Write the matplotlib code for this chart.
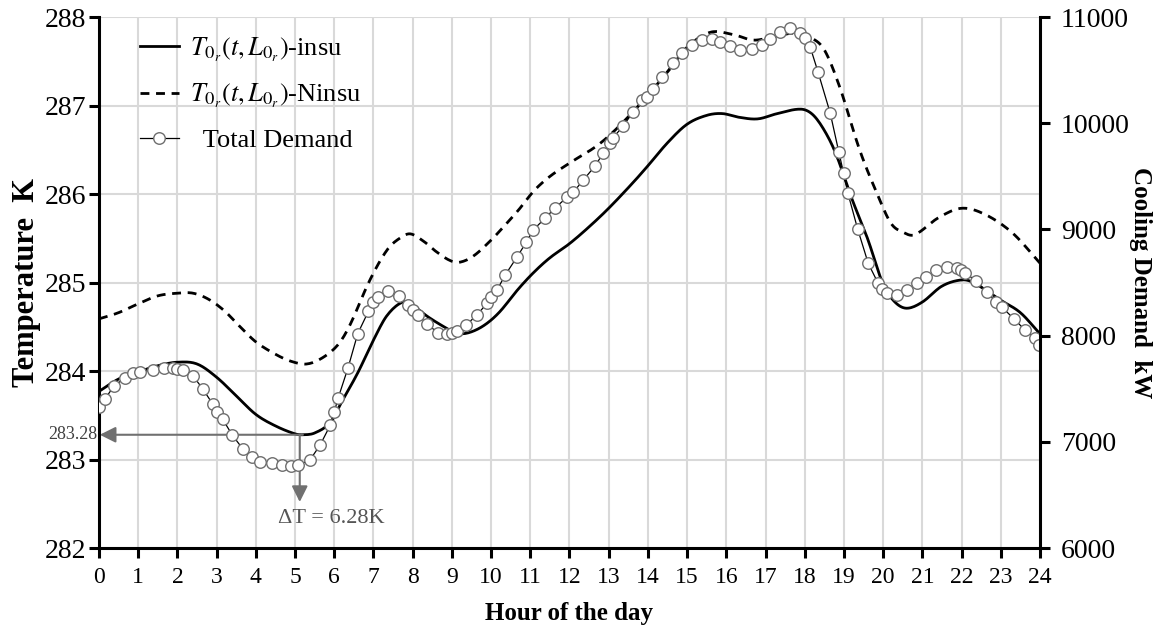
import matplotlib
matplotlib.use("Agg")
import matplotlib.pyplot as plt
import numpy as np

plt.rcParams['font.family'] = ['Liberation Serif', 'DejaVu Serif']
plt.rcParams['mathtext.fontset'] = 'stix'

# --- data -------------------------------------------------------------
insu_hours = [0, 0.5, 1, 1.5, 2, 2.5, 3, 3.5, 4, 4.5, 5, 5.2, 5.5, 5.9, 6.2, 6.6,
              7.0, 7.35, 7.75, 8.0, 8.4, 8.8, 9.1, 9.4, 9.8, 10.2, 10.7, 11.1, 11.5,
              12, 12.5, 13, 13.6, 14, 14.5, 15, 15.5, 15.9, 16.3, 16.8, 17.3, 17.9,
              18.2, 18.5, 18.8, 19.2, 19.6, 20.0, 20.3, 20.6, 21.0, 21.5, 22.0, 22.3,
              23.0, 23.5, 24]
insu_temp = [283.77, 283.91, 283.99, 284.06, 284.10, 284.08, 283.93, 283.72, 283.51,
             283.38, 283.29, 283.28, 283.30, 283.42, 283.66, 283.98, 284.35, 284.63,
             284.78, 284.74, 284.61, 284.50, 284.43, 284.43, 284.51, 284.66, 284.93,
             285.12, 285.28, 285.44, 285.63, 285.84, 286.12, 286.32, 286.58, 286.79,
             286.89, 286.91, 286.87, 286.85, 286.91, 286.96, 286.90, 286.72, 286.45,
             285.95, 285.50, 284.98, 284.78, 284.71, 284.78, 284.96, 285.03, 285.00,
             284.80, 284.66, 284.42]

ninsu_hours = [0, 0.5, 1, 1.5, 2, 2.4, 2.8, 3.2, 3.6, 4.0, 4.5, 4.9, 5.3, 5.7, 6.1,
               6.4, 6.9, 7.35, 7.7, 7.95, 8.3, 8.6, 8.95, 9.2, 9.55, 10.0, 10.4, 10.7,
               11.1, 11.5, 12, 12.8, 13.6, 14.5, 15.0, 15.6, 16.2, 16.7, 17.3, 17.8,
               18.15, 18.5, 18.9, 19.4, 19.85, 20.2, 20.5, 20.8, 21.4, 22.0, 22.6,
               23.3, 24.0]
ninsu_temp = [284.59, 284.66, 284.76, 284.85, 284.88, 284.88, 284.81, 284.68, 284.50,
              284.33, 284.19, 284.11, 284.08, 284.15, 284.30, 284.52, 285.02, 285.37,
              285.51, 285.55, 285.46, 285.35, 285.25, 285.23, 285.30, 285.48, 285.67,
              285.82, 286.04, 286.20, 286.35, 286.58, 286.92, 287.38, 287.66, 287.83,
              287.80, 287.74, 287.79, 287.82, 287.77, 287.63, 287.20, 286.50, 286.00,
              285.67, 285.57, 285.54, 285.73, 285.84, 285.77, 285.56, 285.22]

demand_hours = [0.0, 0.15, 0.38, 0.66, 0.87, 1.05, 1.38, 1.66, 1.9, 2.0, 2.15, 2.4,
                2.65, 2.9, 3.0, 3.15, 3.4, 3.67, 3.9, 4.1, 4.4, 4.67, 4.9, 5.08, 5.38,
                5.64, 5.9, 6.0, 6.1, 6.35, 6.6, 6.87, 6.99, 7.12, 7.37, 7.65, 7.88, 8.0,
                8.14, 8.37, 8.65, 8.87, 9.0, 9.13, 9.36, 9.64, 9.9, 10.0, 10.15, 10.36,
                10.66, 10.9, 11.07, 11.38, 11.63, 11.94, 12.1, 12.35, 12.65, 12.86,
                13.04, 13.1, 13.37, 13.62, 13.85, 13.97, 14.14, 14.37, 14.65, 14.87,
                15.13, 15.38, 15.64, 15.84, 16.1, 16.35, 16.66, 16.9, 17.12, 17.37,
                17.63, 17.88, 18.0, 18.14, 18.34, 18.65, 18.87, 18.99, 19.1, 19.35,
                19.62, 19.87, 19.97, 20.1, 20.36, 20.6, 20.86, 21.1, 21.35, 21.63,
                21.88, 21.98, 22.1, 22.37, 22.65, 22.88, 23.03, 23.34, 23.62, 23.88,
                23.98]
demand_kw = [7330, 7403, 7525, 7600, 7648, 7657, 7676, 7695, 7695, 7690, 7676, 7620,
             7497, 7356, 7281, 7215, 7064, 6932, 6857, 6810, 6800, 6782, 6772, 6782,
             6829, 6970, 7158, 7281, 7413, 7695, 8020, 8228, 8316, 8363, 8420, 8373,
             8288, 8241, 8194, 8109, 8025, 8015, 8025, 8043, 8100, 8194, 8307, 8363,
             8429, 8571, 8740, 8881, 8994, 9107, 9202, 9305, 9352, 9465, 9597, 9719,
             9814, 9860, 9974, 10106, 10219, 10247, 10322, 10435, 10567, 10661, 10736,
             10783, 10793, 10765, 10727, 10689, 10698, 10736, 10793, 10859, 10896,
             10850, 10802, 10718, 10482, 10096, 9729, 9531, 9343, 9004, 8680, 8495,
             8439, 8401, 8380, 8429, 8495, 8552, 8618, 8646, 8637, 8618, 8590, 8514,
             8411, 8316, 8269, 8156, 8053, 7977, 7911]

x_ticks = list(range(0, 25))
temp_ticks = [282, 283, 284, 285, 286, 287, 288]
demand_ticks = [6000, 7000, 8000, 9000, 10000, 11000]

t_min = 283.28
t_min_hour = 5.2
delta_label = "ΔT = 6.28K"


def smooth(xs, ys, n=600):
    xs = np.asarray(xs, float)
    ys = np.asarray(ys, float)
    xx = np.linspace(xs[0], xs[-1], n)
    m = np.zeros_like(ys)
    m[1:-1] = (ys[2:] - ys[:-2]) / (xs[2:] - xs[:-2])
    m[0] = (ys[1] - ys[0]) / (xs[1] - xs[0])
    m[-1] = (ys[-1] - ys[-2]) / (xs[-1] - xs[-2])
    idx = np.clip(np.searchsorted(xs, xx) - 1, 0, len(xs) - 2)
    h = xs[idx + 1] - xs[idx]
    t = (xx - xs[idx]) / h
    h00 = 2 * t**3 - 3 * t**2 + 1
    h10 = t**3 - 2 * t**2 + t
    h01 = -2 * t**3 + 3 * t**2
    h11 = t**3 - t**2
    yy = h00 * ys[idx] + h10 * h * m[idx] + h01 * ys[idx + 1] + h11 * h * m[idx + 1]
    return xx, yy


fig = plt.figure(figsize=(11.73, 6.35), dpi=100)
ax = fig.add_axes([0.0844, 0.137, 0.8022, 0.836])
ax2 = ax.twinx()

ax.set_xlim(0, 24)
ax.set_ylim(282, 288)
ax2.set_ylim(6000, 11000)

grid_c = '#d9d9d9'
ax.set_xticks(x_ticks)
ax.set_yticks(temp_ticks)
ax2.set_yticks(demand_ticks)
ax.grid(True, color=grid_c, lw=1.5)
ax.set_axisbelow(True)

for a in (ax, ax2):
    a.spines['top'].set_visible(False)
    for s in ('left', 'right', 'bottom'):
        a.spines[s].set_linewidth(2.2)
ax.spines['right'].set_visible(False)
ax2.spines['left'].set_visible(False)
ax2.spines['bottom'].set_visible(False)

ax.tick_params(axis='x', direction='out', length=7, width=2.2, labelsize=17, pad=7)
ax.tick_params(axis='y', direction='out', length=7, width=2.2, labelsize=20, pad=2)
ax2.tick_params(axis='y', direction='out', length=7, width=2.2, labelsize=20, pad=8)

xs, ys = smooth(insu_hours, insu_temp)
l1, = ax.plot(xs, ys, color='black', lw=2.0, label=r'$T_{0_r}(t, L_{0_r})$-insu')
xs, ys = smooth(ninsu_hours, ninsu_temp)
l2, = ax.plot(xs, ys, color='black', lw=2.0, ls=(0, (3.2, 2.4)),
              label=r'$T_{0_r}(t, L_{0_r})$-Ninsu')
l3, = ax2.plot(demand_hours, demand_kw, color='black', lw=0.9, marker='o',
               markersize=8.3, markerfacecolor='white', markeredgecolor='#6e6e6e',
               markeredgewidth=1.0, label='  Total Demand')

# annotations
arrow_c = '#707070'
ax.annotate('', xy=(0.02, t_min), xytext=(t_min_hour, t_min),
            arrowprops=dict(arrowstyle='-|>', color=arrow_c, lw=1.5,
                            mutation_scale=24, shrinkA=0, shrinkB=0))
ax.annotate('', xy=(5.12, 282.52), xytext=(5.12, t_min),
            arrowprops=dict(arrowstyle='-|>', color=arrow_c, lw=1.5,
                            mutation_scale=24, shrinkA=0, shrinkB=0))
ax.text(-0.04, t_min, f'{t_min:.2f}', ha='right', va='center', fontsize=13,
        color='#404040', clip_on=False)
ax.text(5.92, 282.33, delta_label, ha='center', va='center', fontsize=16,
        color='#555555')

ax.set_xlabel('Hour of the day', fontsize=18, fontweight='bold', labelpad=10)
ax.set_ylabel('Temperature  K', fontsize=22, fontweight='bold', labelpad=3)
ax2.set_ylabel('Cooling Demand  kW', fontsize=18, fontweight='bold',
               rotation=270, labelpad=16)

leg = ax2.legend(handles=[l1, l2, l3], loc='upper left',
                 bbox_to_anchor=(0.018, 1.01), frameon=False, fontsize=19,
                 handlelength=1.5, labelspacing=0.7, handletextpad=0.4)

fig.savefig('out.png', dpi=100)
